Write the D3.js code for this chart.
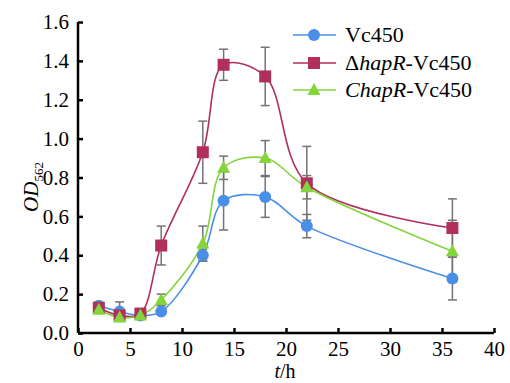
<!DOCTYPE html>
<html><head><meta charset="utf-8">
<script src="https://cdn.jsdelivr.net/npm/d3@7"></script>
</head><body style="margin:0">
<svg id="c" width="510" height="383"></svg>
<script>
const times = [2, 4, 6, 8, 12, 14, 18, 22, 36];
const vc450 = [0.14, 0.11, 0.09, 0.11, 0.40, 0.68, 0.70, 0.55, 0.28];
const vc450Err = [0.01, 0.05, 0.01, 0.01, 0.03, 0.15, 0.105, 0.06, 0.11];
const dhapR = [0.13, 0.09, 0.10, 0.45, 0.93, 1.38, 1.32, 0.77, 0.54];
const dhapRErr = [0.01, 0.02, 0.01, 0.10, 0.16, 0.08, 0.15, 0.19, 0.15];
const chapR = [0.12, 0.08, 0.09, 0.17, 0.46, 0.85, 0.90, 0.75, 0.42];
const chapRErr = [0.01, 0.01, 0.01, 0.03, 0.09, 0.06, 0.09, 0.06, 0.16];
const xTicks = [0, 5, 10, 15, 20, 25, 30, 35, 40];
const yTicks = [0, 0.2, 0.4, 0.6, 0.8, 1.0, 1.2, 1.4, 1.6];

const FONT = '"Liberation Serif", "Times New Roman", serif';
const svg = d3.select("#c");
const x = d3.scaleLinear().domain([0, 40]).range([78, 494]);
const y = d3.scaleLinear().domain([0, 1.6]).range([333, 22]);

const series = [
  {name: "Vc450", vals: vc450, err: vc450Err, color: "#4a8fe7", shape: "circle"},
  {name: "dhapR", vals: dhapR, err: dhapRErr, color: "#b02f5b", shape: "square"},
  {name: "chapR", vals: chapR, err: chapRErr, color: "#84d43c", shape: "triangle"}
];

function marker(g, shape, color, cx, cy) {
  if (shape === "circle") g.append("circle").attr("cx", cx).attr("cy", cy).attr("r", 6).attr("fill", color);
  else if (shape === "square") g.append("rect").attr("x", cx - 6).attr("y", cy - 6).attr("width", 12).attr("height", 12).attr("fill", color);
  else g.append("path").attr("d", `M${cx},${cy-7}L${cx+6.5},${cy+5}L${cx-6.5},${cy+5}Z`).attr("fill", color);
}

const eg = svg.append("g").attr("stroke", "#737373").attr("stroke-width", 1.5);
series.forEach(s => {
  times.forEach((t, i) => {
    const cx = x(t), y1 = y(s.vals[i] + s.err[i]), y2 = y(s.vals[i] - s.err[i]);
    eg.append("line").attr("x1", cx).attr("x2", cx).attr("y1", y1).attr("y2", y2);
    eg.append("line").attr("x1", cx - 4.5).attr("x2", cx + 4.5).attr("y1", y1).attr("y2", y1);
    eg.append("line").attr("x1", cx - 4.5).attr("x2", cx + 4.5).attr("y1", y2).attr("y2", y2);
  });
});

const line = d3.line().x((d, i) => x(times[i])).y(d => y(d)).curve(d3.curveCatmullRom.alpha(0.5));
series.forEach(s => {
  svg.append("path").attr("d", line(s.vals)).attr("fill", "none").attr("stroke", s.color).attr("stroke-width", 1.6);
});
series.forEach(s => {
  const g = svg.append("g");
  times.forEach((t, i) => marker(g, s.shape, s.color, x(t), y(s.vals[i])));
});

const xa = svg.append("g").attr("transform", "translate(0,333)")
  .call(d3.axisBottom(x).tickValues(xTicks).tickSizeInner(-5).tickSizeOuter(0).tickPadding(8).tickFormat(d3.format("d")));
const ya = svg.append("g").attr("transform", "translate(78,0)")
  .call(d3.axisLeft(y).tickValues(yTicks).tickSizeInner(-5).tickSizeOuter(0).tickPadding(9).tickFormat(d3.format(".1f")));
[xa, ya].forEach(a => {
  a.attr("font-family", null).attr("font-size", null);
  a.select(".domain").attr("stroke", "#000").attr("stroke-width", 2.5);
  a.selectAll(".tick line").attr("stroke", "#000").attr("stroke-width", 2.5);
  a.selectAll(".tick text").style("font-family", FONT).style("font-size", "21px").attr("fill", "#000");
});
xa.select(".domain").attr("d", "M78,0H494");
ya.select(".domain").attr("d", "M0,333V22");

const xl = svg.append("text").attr("x", 285).attr("y", 378).attr("text-anchor", "middle")
  .style("font-family", FONT).style("font-size", "20px");
xl.append("tspan").style("font-style", "italic").text("t");
xl.append("tspan").text("/h");
const yl = svg.append("text").attr("transform", "translate(38,187) rotate(-90)").attr("text-anchor", "middle")
  .style("font-family", FONT).style("font-size", "21px");
yl.append("tspan").style("font-style", "italic").text("OD");
yl.append("tspan").style("font-size", "13px").attr("dy", 5).text("562");

const legY = [35, 63, 90];
const legText = [
  [["Vc450", false]],
  [["Δ", false], ["hapR", true], ["-Vc450", false]],
  [["ChapR", true], ["-Vc450", false]]
];
series.forEach((s, i) => {
  const g = svg.append("g");
  g.append("line").attr("x1", 293).attr("x2", 336).attr("y1", legY[i]).attr("y2", legY[i]).attr("stroke", s.color).attr("stroke-width", 1.6);
  marker(g, s.shape, s.color, 314, legY[i]);
  const t = g.append("text").attr("x", 345).attr("y", legY[i] + 7).style("font-family", FONT).style("font-size", "22px");
  legText[i].forEach(p => t.append("tspan").style("font-style", p[1] ? "italic" : "normal").text(p[0]));
});
</script>
</body></html>
